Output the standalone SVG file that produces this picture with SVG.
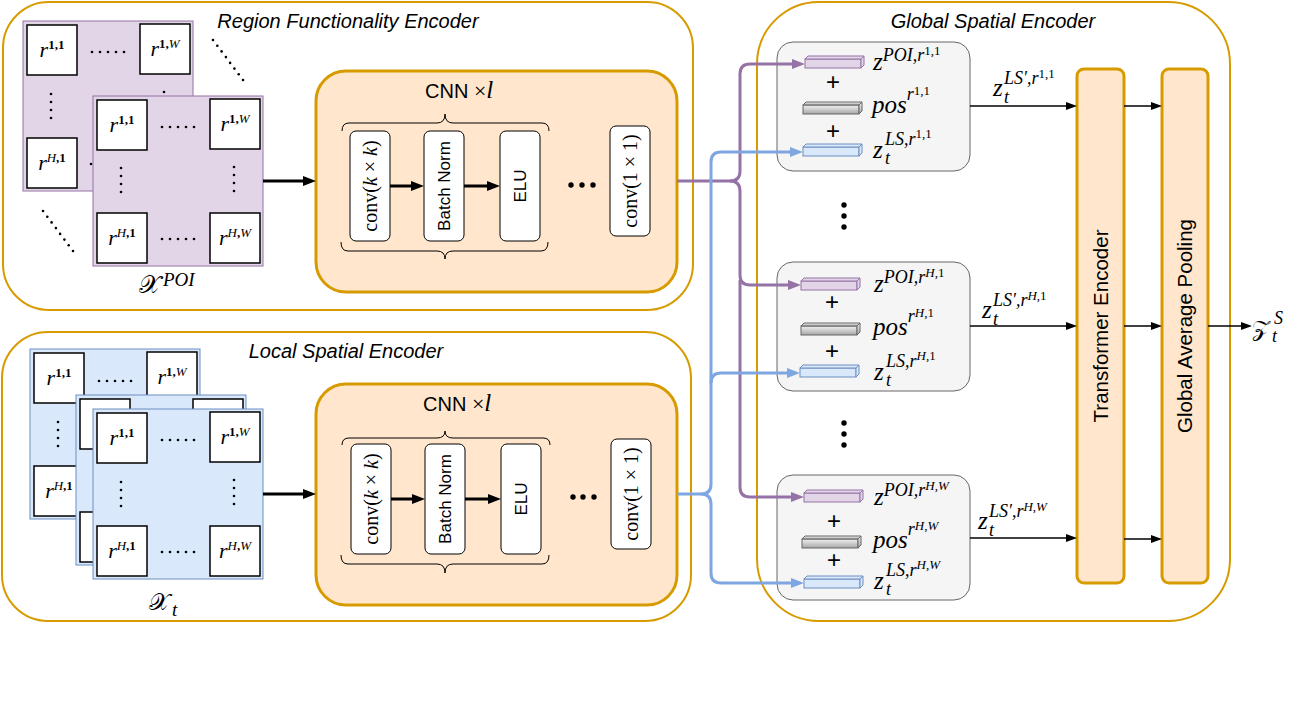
<svg xmlns="http://www.w3.org/2000/svg" width="1310" height="725" viewBox="0 0 1310 725">
<defs>
<style>
.cont{fill:none;stroke:#d79b00;stroke-width:2}
.title{font-family:"Liberation Sans",Arial,sans-serif;font-style:italic;font-size:20px;text-anchor:middle;fill:#000}
.cnn{fill:#ffe6cc;stroke:#d79b00;stroke-width:3}
.layer{fill:#fff;stroke:#000;stroke-width:1}
.sans{font-family:"Liberation Sans",Arial,sans-serif;fill:#000}
.serif{font-family:"Liberation Serif","DejaVu Serif",serif;fill:#000}
.it{font-style:italic}
.up{font-style:normal}
.gp{fill:#e1d5e7;stroke:#9673a6;stroke-width:1}
.gb{fill:#dae8fc;stroke:#6c8ebf;stroke-width:1}
.cell{fill:#fff;stroke:#000;stroke-width:1.5}
.cl{font-family:"Liberation Serif","DejaVu Serif",serif;font-style:italic;font-size:22px;text-anchor:middle;fill:#000}
.cs{font-size:13px;font-style:normal;font-weight:bold}
.ci{font-style:italic;font-weight:normal}
.dot{fill:#000}
.emb{fill:#f5f5f5;stroke:#666;stroke-width:1}
.mz{font-family:"Liberation Serif","DejaVu Serif",serif;font-style:italic;font-size:25px;fill:#000}
.sp{font-size:18px}
.ss{font-size:13px;font-style:normal}
.plus{font-family:"Liberation Sans",Arial,sans-serif;font-size:24px;text-anchor:middle;fill:#000}
.barP{fill:#e1d5e7;stroke:#9673a6;stroke-width:1}
.barG{fill:url(#gray);stroke:#666;stroke-width:1}
.barB{fill:#dae8fc;stroke:#6c8ebf;stroke-width:1}
.tall{fill:#ffe6cc;stroke:#d79b00;stroke-width:3}
.brace{fill:none;stroke:#000;stroke-width:1}
.thick{fill:none;stroke:#000;stroke-width:3}
.thin{fill:none;stroke:#000;stroke-width:1.5}
.pur{fill:none;stroke:#9673a6;stroke-width:3}
.blu{fill:none;stroke:#7ea6e0;stroke-width:3}
.cal{font-family:"DejaVu Serif","DejaVu Sans","Noto Sans",serif;fill:#000}
</style>
<linearGradient id="gray" x1="0" y1="0" x2="0" y2="1">
<stop offset="0" stop-color="#f2f2f2"/><stop offset="1" stop-color="#a6a6a6"/>
</linearGradient>
<g id="bar"><rect x="0" y="3" width="56" height="9"/><path d="M0,3 L3,0 H59 L56,3 Z"/><path d="M56,3 L59,0 V9 L56,12 Z"/></g>
<marker id="ahK" markerUnits="userSpaceOnUse" markerWidth="14" markerHeight="10" refX="4" refY="5" orient="auto"><path d="M0,0 L13,5 L0,10 Z" fill="#000"/></marker>
<marker id="ahk" markerUnits="userSpaceOnUse" markerWidth="12" markerHeight="8" refX="3" refY="4" orient="auto"><path d="M0,0 L11,4 L0,8 Z" fill="#000"/></marker>
<marker id="ahP" markerUnits="userSpaceOnUse" markerWidth="14" markerHeight="10" refX="4" refY="5" orient="auto"><path d="M0,0 L13,5 L0,10 Z" fill="#9673a6"/></marker>
<marker id="ahB" markerUnits="userSpaceOnUse" markerWidth="14" markerHeight="10" refX="4" refY="5" orient="auto"><path d="M0,0 L13,5 L0,10 Z" fill="#7ea6e0"/></marker>
</defs>
<rect x="0" y="0" width="1310" height="725" fill="#fff"/>

<!-- containers -->
<g id="region-functionality-encoder">
<rect class="cont" x="3" y="2" width="690" height="308" rx="46"/>
<text class="title" x="348" y="28">Region Functionality Encoder</text>
</g>
<g id="local-spatial-encoder">
<rect class="cont" x="2" y="332" width="689" height="289" rx="46"/>
<text class="title" x="346" y="358">Local Spatial Encoder</text>
</g>
<g id="global-spatial-encoder">
<rect class="cont" x="757" y="2" width="473" height="619" rx="62"/>
<text class="title" x="993" y="28">Global Spatial Encoder</text>
</g>

<!-- POI grid -->
<g id="poi-grid">
<rect class="gp" x="23" y="21" width="170" height="170"/>
<rect class="cell" x="27" y="25" width="50" height="50"/>
<text class="cl" x="52" y="57">r<tspan class="cs" dy="-8">1,1</tspan></text>
<rect class="cell" x="140" y="24" width="50" height="50"/>
<text class="cl" x="165" y="56">r<tspan class="cs" dy="-8">1,<tspan class="ci">W</tspan></tspan></text>
<rect class="cell" x="27" y="138" width="50" height="50"/>
<text class="cl" x="52" y="170">r<tspan class="cs" dy="-8"><tspan class="ci">H</tspan>,1</tspan></text>
<g class="dot">
<circle cx="92" cy="52" r="1.3"/><circle cx="100" cy="52" r="1.3"/><circle cx="108" cy="52" r="1.3"/><circle cx="116" cy="52" r="1.3"/><circle cx="124" cy="52" r="1.3"/>
<circle cx="51" cy="94" r="1.3"/><circle cx="51" cy="102" r="1.3"/><circle cx="51" cy="110" r="1.3"/><circle cx="51" cy="118" r="1.3"/>
<circle cx="164" cy="92" r="1.3"/><circle cx="91" cy="164" r="1.3"/>
<circle cx="213" cy="40" r="1.3"/><circle cx="217.3" cy="45.7" r="1.3"/><circle cx="221.6" cy="51.4" r="1.3"/><circle cx="225.9" cy="57.1" r="1.3"/><circle cx="230.1" cy="62.9" r="1.3"/><circle cx="234.4" cy="68.6" r="1.3"/><circle cx="238.7" cy="74.3" r="1.3"/><circle cx="243" cy="80" r="1.3"/>
<circle cx="43" cy="211" r="1.3"/><circle cx="47.3" cy="216.7" r="1.3"/><circle cx="51.6" cy="222.4" r="1.3"/><circle cx="55.9" cy="228.1" r="1.3"/><circle cx="60.1" cy="233.9" r="1.3"/><circle cx="64.4" cy="239.6" r="1.3"/><circle cx="68.7" cy="245.3" r="1.3"/><circle cx="73" cy="251" r="1.3"/>
</g>
<rect class="gp" x="93" y="96" width="170" height="170"/>
<rect class="cell" x="97" y="100" width="50" height="50"/>
<text class="cl" x="122" y="132">r<tspan class="cs" dy="-8">1,1</tspan></text>
<rect class="cell" x="210" y="99" width="50" height="50"/>
<text class="cl" x="235" y="131">r<tspan class="cs" dy="-8">1,<tspan class="ci">W</tspan></tspan></text>
<rect class="cell" x="97" y="213" width="50" height="50"/>
<text class="cl" x="122" y="245">r<tspan class="cs" dy="-8"><tspan class="ci">H</tspan>,1</tspan></text>
<rect class="cell" x="210" y="213" width="50" height="50"/>
<text class="cl" x="235" y="245">r<tspan class="cs" dy="-8"><tspan class="ci">H</tspan>,<tspan class="ci">W</tspan></tspan></text>
<g class="dot">
<circle cx="162" cy="127" r="1.3"/><circle cx="170" cy="127" r="1.3"/><circle cx="178" cy="127" r="1.3"/><circle cx="186" cy="127" r="1.3"/><circle cx="194" cy="127" r="1.3"/>
<circle cx="162" cy="239" r="1.3"/><circle cx="170" cy="239" r="1.3"/><circle cx="178" cy="239" r="1.3"/><circle cx="186" cy="239" r="1.3"/><circle cx="194" cy="239" r="1.3"/>
<circle cx="121" cy="168" r="1.3"/><circle cx="121" cy="176" r="1.3"/><circle cx="121" cy="184" r="1.3"/><circle cx="121" cy="192" r="1.3"/>
<circle cx="234" cy="167" r="1.3"/><circle cx="234" cy="175" r="1.3"/><circle cx="234" cy="183" r="1.3"/><circle cx="234" cy="191" r="1.3"/>
</g>
<text class="cal" x="139" y="293" font-size="25">𝒳<tspan class="serif it" font-size="19" x="163" dy="-7">POI</tspan></text>
</g>

<!-- Local grid -->
<g id="local-grid">
<rect class="gb" x="30" y="349" width="170" height="170"/>
<rect class="cell" x="34" y="353" width="50" height="50"/>
<text class="cl" x="59" y="385">r<tspan class="cs" dy="-8">1,1</tspan></text>
<rect class="cell" x="147" y="352" width="50" height="50"/>
<text class="cl" x="172" y="384">r<tspan class="cs" dy="-8">1,<tspan class="ci">W</tspan></tspan></text>
<rect class="cell" x="34" y="466" width="50" height="50"/>
<text class="cl" x="59" y="498">r<tspan class="cs" dy="-8"><tspan class="ci">H</tspan>,1</tspan></text>
<g class="dot">
<circle cx="99" cy="381" r="1.3"/><circle cx="107" cy="381" r="1.3"/><circle cx="115" cy="381" r="1.3"/><circle cx="123" cy="381" r="1.3"/><circle cx="131" cy="381" r="1.3"/>
<circle cx="58" cy="422" r="1.3"/><circle cx="58" cy="430" r="1.3"/><circle cx="58" cy="438" r="1.3"/><circle cx="58" cy="446" r="1.3"/>
</g>
<rect class="gb" x="76" y="395" width="170" height="170"/>
<rect class="cell" x="80" y="399" width="50" height="50"/>
<rect class="cell" x="193" y="399" width="50" height="50"/>
<rect class="cell" x="80" y="512" width="50" height="50"/>
<rect class="gb" x="93" y="409" width="170" height="170"/>
<rect class="cell" x="97" y="413" width="50" height="50"/>
<text class="cl" x="122" y="445">r<tspan class="cs" dy="-8">1,1</tspan></text>
<rect class="cell" x="210" y="412" width="50" height="50"/>
<text class="cl" x="235" y="444">r<tspan class="cs" dy="-8">1,<tspan class="ci">W</tspan></tspan></text>
<rect class="cell" x="97" y="526" width="50" height="50"/>
<text class="cl" x="122" y="558">r<tspan class="cs" dy="-8"><tspan class="ci">H</tspan>,1</tspan></text>
<rect class="cell" x="210" y="526" width="50" height="50"/>
<text class="cl" x="235" y="558">r<tspan class="cs" dy="-8"><tspan class="ci">H</tspan>,<tspan class="ci">W</tspan></tspan></text>
<g class="dot">
<circle cx="162" cy="440" r="1.3"/><circle cx="170" cy="440" r="1.3"/><circle cx="178" cy="440" r="1.3"/><circle cx="186" cy="440" r="1.3"/><circle cx="194" cy="440" r="1.3"/>
<circle cx="162" cy="552" r="1.3"/><circle cx="170" cy="552" r="1.3"/><circle cx="178" cy="552" r="1.3"/><circle cx="186" cy="552" r="1.3"/><circle cx="194" cy="552" r="1.3"/>
<circle cx="121" cy="482" r="1.3"/><circle cx="121" cy="490" r="1.3"/><circle cx="121" cy="498" r="1.3"/><circle cx="121" cy="506" r="1.3"/>
<circle cx="234" cy="480" r="1.3"/><circle cx="234" cy="488" r="1.3"/><circle cx="234" cy="496" r="1.3"/><circle cx="234" cy="504" r="1.3"/>
</g>
<text class="cal" x="149" y="610" font-size="24">𝒳<tspan class="serif it" font-size="19" x="172" dy="6">t</tspan></text>
</g>

<!-- CNN top -->
<g id="cnn-poi">
<rect class="cnn" x="316" y="71" width="361" height="221" rx="30"/>
<text x="425" y="98"><tspan class="sans" font-size="20">CNN </tspan><tspan class="serif" font-size="22">×</tspan><tspan class="serif it" font-size="25">l</tspan></text>
<path class="brace" d="M342,131 Q342,123 349,123 H437 Q445,123 445,114 Q445,123 453,123 H542 Q549,123 549,131"/>
<path class="brace" d="M341,242 Q341,251 348,251 H437 Q445,251 445,259 Q445,251 453,251 H541 Q548,251 548,242"/>
<rect class="layer" x="350" y="131" width="40" height="110" rx="6"/>
<text class="serif" font-size="20" text-anchor="middle" transform="translate(370,186) rotate(-90)" dy="7">conv(<tspan class="it">k</tspan> × <tspan class="it">k</tspan>)</text>
<rect class="layer" x="424" y="131" width="40" height="110" rx="6"/>
<text class="sans" font-size="17" text-anchor="middle" transform="translate(444,186) rotate(-90)" dy="6">Batch Norm</text>
<rect class="layer" x="500" y="131" width="40" height="110" rx="6"/>
<text class="sans" font-size="17" text-anchor="middle" transform="translate(520,186) rotate(-90)" dy="6">ELU</text>
<g class="dot"><circle cx="571" cy="185" r="2.7"/><circle cx="582" cy="185" r="2.7"/><circle cx="593" cy="185" r="2.7"/></g>
<rect class="layer" x="610" y="126" width="40" height="110" rx="6"/>
<text class="serif" font-size="20" text-anchor="middle" transform="translate(630,181) rotate(-90)" dy="7">conv(1 × 1)</text>
</g>

<!-- CNN bottom -->
<g id="cnn-local">
<rect class="cnn" x="316" y="384" width="361" height="221" rx="30"/>
<text x="423" y="411"><tspan class="sans" font-size="20">CNN </tspan><tspan class="serif" font-size="22">×</tspan><tspan class="serif it" font-size="25">l</tspan></text>
<path class="brace" d="M342,445 Q342,438 349,438 H437 Q445,438 445,431 Q445,438 453,438 H543 Q550,438 550,445"/>
<path class="brace" d="M341,555 Q341,564 348,564 H437 Q445,564 445,573 Q445,564 453,564 H542 Q549,564 549,555"/>
<rect class="layer" x="351" y="444" width="40" height="110" rx="6"/>
<text class="serif" font-size="20" text-anchor="middle" transform="translate(371,499) rotate(-90)" dy="7">conv(<tspan class="it">k</tspan> × <tspan class="it">k</tspan>)</text>
<rect class="layer" x="425" y="444" width="40" height="110" rx="6"/>
<text class="sans" font-size="17" text-anchor="middle" transform="translate(445,499) rotate(-90)" dy="6">Batch Norm</text>
<rect class="layer" x="501" y="444" width="40" height="110" rx="6"/>
<text class="sans" font-size="17" text-anchor="middle" transform="translate(521,499) rotate(-90)" dy="6">ELU</text>
<g class="dot"><circle cx="573" cy="497" r="2.7"/><circle cx="583" cy="497" r="2.7"/><circle cx="594" cy="497" r="2.7"/></g>
<rect class="layer" x="611" y="439" width="40" height="110" rx="6"/>
<text class="serif" font-size="20" text-anchor="middle" transform="translate(631,494) rotate(-90)" dy="7">conv(1 × 1)</text>
</g>

<!-- embedding nodes -->
<g id="emb-r11">
<rect class="emb" x="777" y="42" width="193" height="129" rx="16"/>
<use href="#bar" class="barP" x="805" y="56"/>
<use href="#bar" class="barG" x="803" y="102"/>
<use href="#bar" class="barB" x="803" y="144"/>
<text class="plus" x="833" y="90">+</text>
<text class="plus" x="833" y="139">+</text>
<text class="mz" x="873" y="70">z<tspan class="sp" dy="-9">POI,r</tspan><tspan class="ss" dy="-6">1,1</tspan></text>
<text class="mz" x="872" y="113">pos<tspan class="sp" dy="-13">r</tspan><tspan class="ss" dy="-5">1,1</tspan></text>
<text class="mz" x="873" y="158">z<tspan class="sp" x="885" dy="6">t</tspan><tspan class="sp" x="885" dy="-19">LS,r</tspan><tspan class="ss" dy="-7">1,1</tspan></text>
</g>
<g id="emb-rH1">
<rect class="emb" x="777" y="262" width="193" height="129" rx="16"/>
<use href="#bar" class="barP" x="801" y="278"/>
<use href="#bar" class="barG" x="801" y="323"/>
<use href="#bar" class="barB" x="800" y="365"/>
<text class="plus" x="832" y="310">+</text>
<text class="plus" x="832" y="359">+</text>
<text class="mz" x="874" y="292">z<tspan class="sp" dy="-9">POI,r</tspan><tspan class="ss" dy="-6"><tspan class="it">H</tspan>,1</tspan></text>
<text class="mz" x="873" y="335">pos<tspan class="sp" dy="-13">r</tspan><tspan class="ss" dy="-5"><tspan class="it">H</tspan>,1</tspan></text>
<text class="mz" x="874" y="380">z<tspan class="sp" x="886" dy="6">t</tspan><tspan class="sp" x="886" dy="-19">LS,r</tspan><tspan class="ss" dy="-7"><tspan class="it">H</tspan>,1</tspan></text>
</g>
<g id="emb-rHW">
<rect class="emb" x="777" y="475" width="193" height="125" rx="16"/>
<use href="#bar" class="barP" x="804" y="490"/>
<use href="#bar" class="barG" x="802" y="536"/>
<use href="#bar" class="barB" x="804" y="576"/>
<text class="plus" x="834" y="529">+</text>
<text class="plus" x="834" y="568">+</text>
<text class="mz" x="874" y="505">z<tspan class="sp" dy="-9">POI,r</tspan><tspan class="ss" dy="-6"><tspan class="it">H</tspan>,<tspan class="it">W</tspan></tspan></text>
<text class="mz" x="873" y="548">pos<tspan class="sp" dy="-13">r</tspan><tspan class="ss" dy="-5"><tspan class="it">H</tspan>,<tspan class="it">W</tspan></tspan></text>
<text class="mz" x="874" y="589">z<tspan class="sp" x="886" dy="6">t</tspan><tspan class="sp" x="886" dy="-19">LS,r</tspan><tspan class="ss" dy="-7"><tspan class="it">H</tspan>,<tspan class="it">W</tspan></tspan></text>
</g>
<g id="vdots" class="dot">
<circle cx="844" cy="205" r="2.7"/><circle cx="844" cy="216" r="2.7"/><circle cx="844" cy="227" r="2.7"/>
<circle cx="844" cy="423" r="2.7"/><circle cx="844" cy="434" r="2.7"/><circle cx="844" cy="445" r="2.7"/>
</g>

<g id="transformer-encoder">
<rect class="tall" x="1077" y="69" width="47" height="514" rx="7"/>
<text class="sans" font-size="20.5" text-anchor="middle" transform="translate(1100.5,326) rotate(-90)" dy="7">Transformer Encoder</text>
</g>
<g id="global-average-pooling">
<rect class="tall" x="1162" y="69" width="46" height="514" rx="7"/>
<text class="sans" font-size="20.5" text-anchor="middle" transform="translate(1185,326) rotate(-90)" dy="7">Global Average Pooling</text>
</g>

<!-- connectors -->
<g id="connectors">
<path class="thick" d="M263,181 H307" marker-end="url(#ahK)"/>
<path class="thick" d="M263,494 H307" marker-end="url(#ahK)"/>
<path class="thick" d="M390,186 H415" marker-end="url(#ahK)"/>
<path class="thick" d="M464,186 H491" marker-end="url(#ahK)"/>
<path class="thick" d="M391,499 H416" marker-end="url(#ahK)"/>
<path class="thick" d="M465,499 H492" marker-end="url(#ahK)"/>
<path class="pur" d="M677,181 H730 Q740,181 740,171 V74 Q740,64 750,64 H796" marker-end="url(#ahP)"/>
<path class="pur" d="M730,181 Q740,181 740,191 V275 Q740,285 750,285 H792" marker-end="url(#ahP)"/>
<path class="pur" d="M740,280 V487 Q740,497 750,497 H795" marker-end="url(#ahP)"/>
<path class="blu" d="M677,494 H701 Q711,494 711,484 V162 Q711,152 721,152 H794" marker-end="url(#ahB)"/>
<path class="blu" d="M711,383 Q711,373 721,373 H791" marker-end="url(#ahB)"/>
<path class="blu" d="M701,494 Q711,494 711,504 V573 Q711,583 721,583 H795" marker-end="url(#ahB)"/>
<path class="thin" d="M970,106 H1069" marker-end="url(#ahk)"/>
<path class="thin" d="M970,326 H1069" marker-end="url(#ahk)"/>
<path class="thin" d="M970,538 H1069" marker-end="url(#ahk)"/>
<path class="thin" d="M1124,106 H1154" marker-end="url(#ahk)"/>
<path class="thin" d="M1124,326 H1154" marker-end="url(#ahk)"/>
<path class="thin" d="M1124,539 H1154" marker-end="url(#ahk)"/>
<path class="thin" d="M1208,326 H1244" marker-end="url(#ahk)"/>
<text class="mz" x="993" y="96">z<tspan class="sp" x="1004" dy="7">t</tspan><tspan class="sp" x="1004" dy="-19">LS′,r</tspan><tspan class="ss" dy="-6">1,1</tspan></text>
<text class="mz" x="982" y="318">z<tspan class="sp" x="993" dy="7">t</tspan><tspan class="sp" x="993" dy="-19">LS′,r</tspan><tspan class="ss" dy="-6"><tspan class="it">H</tspan>,1</tspan></text>
<text class="mz" x="978" y="529">z<tspan class="sp" x="989" dy="7">t</tspan><tspan class="sp" x="989" dy="-19">LS′,r</tspan><tspan class="ss" dy="-6"><tspan class="it">H</tspan>,<tspan class="it">W</tspan></tspan></text>
<text class="cal" x="1252" y="336" font-size="23">𝒵<tspan class="serif it" font-size="18" x="1272" dy="6">t</tspan><tspan class="serif it" font-size="18" x="1274" dy="-18">S</tspan></text>
</g>
</svg>
